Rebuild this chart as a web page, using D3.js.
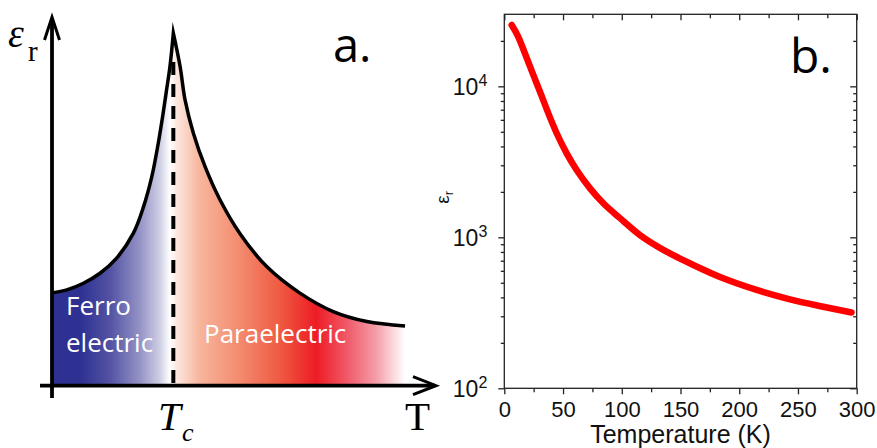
<!DOCTYPE html>
<html><head><meta charset="utf-8">
<script src="https://cdn.jsdelivr.net/npm/d3@7"></script>
<style>body{margin:0;background:#fff}svg{display:block}</style>
</head><body>
<svg id="c" width="877" height="448"></svg>
<script>
// ---------- Panel a: schematic (arbitrary units) ----------
const ferroT   = [0, 3.9, 8.3, 12.7, 17.1, 21.5, 24.2, 26.4, 28.1, 29.4, 30.3, 31.2, 32.1];
const ferroEps = [25.2, 26.0, 27.8, 30.5, 34.6, 41.3, 48.5, 56.7, 65.7, 73.9, 80.2, 86.5, 95.6];
const paraT    = [32.1, 33.9, 35.2, 37.4, 40.5, 44.4, 49.7, 56.8, 65.6, 74.4, 83.3, 93.4];
const paraEps  = [95.6, 86.5, 77.5, 68.5, 59.4, 50.5, 41.3, 32.3, 25.1, 20.1, 17.4, 16.2];
const curieT = 32.1;
const gradOffsets = [0, 0.08, 0.164, 0.25, 0.306, 0.334, 0.351, 0.419, 0.533, 0.646, 0.748, 0.83, 0.915, 1];
const gradColors  = ["#2e3192","#2e3192","#5352a3","#9594c6","#cfcfe5","#ffffff","#fde9e1","#f7b59c","#f38a6e","#ef5a42","#ed1c24","#f05564","#f59aa6","#ffffff"];

// ---------- Panel b: measured data ----------
const temperatureK = [6.3, 11.9, 17.6, 24.7, 30.4, 37.5, 44.6, 53.1, 61.6, 73, 84.3, 98.5, 115.5, 138.2, 160.9, 186.4, 214.8, 243.2, 271.5, 295.6];
const epsilonR     = [25500, 21300, 16500, 11900, 9200, 6620, 4890, 3600, 2790, 2110, 1680, 1340, 1035, 803, 656, 535, 448, 388, 347, 318];
const xMajorTicks = [0, 50, 100, 150, 200, 250, 300];
const xMinorTicks = [25, 75, 125, 175, 225, 275];
const yMajorTicks = [100, 1000, 10000];
const yMinorTicks = [200,300,400,500,600,700,800,900,2000,3000,4000,5000,6000,7000,8000,9000,20000];

const svg = d3.select("#c");

// ===== Panel a =====
const xA = d3.scaleLinear([0, 100], [52, 430]);
const yA = d3.scaleLinear([0, 100], [385.7, 17]);
const defs = svg.append("defs");
const grad = defs.append("linearGradient").attr("id","g1").attr("gradientUnits","userSpaceOnUse")
  .attr("x1", xA(ferroT[0])).attr("x2", xA(paraT[paraT.length-1])).attr("y1",0).attr("y2",0);
grad.selectAll("stop").data(gradOffsets).join("stop")
  .attr("offset", d=>d).attr("stop-color", (d,i)=>gradColors[i]);

const ferro = ferroT.map((t,i)=>[t, ferroEps[i]]);
const para = paraT.map((t,i)=>[t, paraEps[i]]);
const area = d3.area().x(d=>xA(d[0])).y0(yA(0)).y1(d=>yA(d[1])).curve(d3.curveCatmullRom);
const gA = svg.append("g");
gA.append("path").attr("d", area(ferro)).attr("fill","url(#g1)");
gA.append("path").attr("d", area(para)).attr("fill","url(#g1)");

const txtA = {fill:"#fff", "font-family":"'Open Sans', Lato, sans-serif", "font-size":"26px"};
function styled(sel, o){ for (const k in o) sel.attr(k, o[k]); return sel; }
styled(gA.append("text").attr("x",66).attr("y",315).text("Ferro"), txtA);
styled(gA.append("text").attr("x",66).attr("y",352).text("electric"), txtA);
styled(gA.append("text").attr("x",204).attr("y",343).text("Paraelectric"), txtA);

// dashed Tc line
gA.append("line").attr("x1", xA(curieT)).attr("x2", xA(curieT))
  .attr("y1", 62).attr("y2", yA(0))
  .attr("stroke","#000").attr("stroke-width",4).attr("stroke-dasharray","13,9");

const line = d3.line().x(d=>xA(d[0])).y(d=>yA(d[1])).curve(d3.curveCatmullRom);
const dCurve = line(ferro) + line(para).replace(/^M/, "L");
gA.append("path").attr("d", dCurve).attr("fill","none").attr("stroke","#000")
  .attr("stroke-width",3.5).attr("stroke-linejoin","miter").attr("stroke-miterlimit",30);

// axes with arrows
const ax0 = xA(0), ay0 = yA(0);
gA.append("line").attr("x1",ax0).attr("x2",ax0).attr("y1",398).attr("y2",18).attr("stroke","#000").attr("stroke-width",3.8);
gA.append("line").attr("x1",40).attr("x2",435).attr("y1",ay0).attr("y2",ay0).attr("stroke","#000").attr("stroke-width",3.8);
gA.append("path").attr("d",`M${ax0-7.5},40 L${ax0},17 L${ax0+7.5},40`).attr("fill","none").attr("stroke","#000").attr("stroke-width",3);
gA.append("path").attr("d",`M413,${ay0-9} L436,${ay0} L413,${ay0+9}`).attr("fill","none").attr("stroke","#000").attr("stroke-width",3);

const serif = "'Liberation Serif','DejaVu Serif',serif";
gA.append("text").attr("x",8).attr("y",47).attr("font-family",serif).attr("font-style","italic").attr("font-size","40px").text("ε");
gA.append("text").attr("x",28).attr("y",61).attr("font-family",serif).attr("font-size","29px").text("r");
gA.append("text").attr("x",158).attr("y",430).attr("font-family",serif).attr("font-style","italic").attr("font-size","41px").text("T");
gA.append("text").attr("x",182).attr("y",441).attr("font-family",serif).attr("font-style","italic").attr("font-size","26px").text("c");
gA.append("text").attr("x",405).attr("y",430).attr("font-family",serif).attr("font-size","41px").text("T");
gA.append("text").attr("x",333).attr("y",62).attr("font-family","'Open Sans',sans-serif").attr("font-size","47px").text("a.");

// ===== Panel b =====
const L = 504.3, R = 856.7, T = 14.3, B = 388.3;
const xB = d3.scaleLinear([0, 300], [L, R]);
const yB = d3.scaleLog([100, 30000], [B, T]);
const gB = svg.append("g").attr("font-family","'Liberation Sans',Arial,sans-serif");
const sans = "'Liberation Sans',Arial,sans-serif";

function styleAxis(g){ g.select(".domain").remove(); g.selectAll("line").attr("stroke","#222").attr("stroke-width",1.3); g.selectAll("text").attr("fill","#111").attr("font-family",sans); }

gB.append("g").attr("transform",`translate(0,${B})`)
  .call(d3.axisBottom(xB).tickValues(xMajorTicks).tickSize(6).tickPadding(7).tickFormat(d3.format("d")))
  .call(styleAxis).selectAll("text").attr("font-size","22px");
gB.append("g").attr("transform",`translate(0,${B})`)
  .call(d3.axisBottom(xB).tickValues(xMinorTicks).tickSize(4).tickFormat("")).call(styleAxis);
gB.append("g").attr("transform",`translate(0,${T})`)
  .call(d3.axisTop(xB).tickValues(xMajorTicks).tickSize(-6).tickFormat("")).call(styleAxis);
gB.append("g").attr("transform",`translate(0,${T})`)
  .call(d3.axisTop(xB).tickValues(xMinorTicks).tickSize(-4).tickFormat("")).call(styleAxis);

const yl = gB.append("g").attr("transform",`translate(${L},0)`)
  .call(d3.axisLeft(yB).tickValues(yMajorTicks).tickSize(6).tickPadding(11).tickFormat(()=>"")).call(styleAxis);
yl.selectAll(".tick text").attr("font-size","23px").attr("dy","0.36em").each(function(d){
  const t = d3.select(this);
  t.append("tspan").text("10");
  t.append("tspan").attr("font-size","16px").attr("dy","-0.55em").text(Math.round(Math.log10(d)));
});
gB.append("g").attr("transform",`translate(${L},0)`)
  .call(d3.axisLeft(yB).tickValues(yMinorTicks).tickSize(3.5).tickFormat("")).call(styleAxis);
gB.append("g").attr("transform",`translate(${R},0)`)
  .call(d3.axisRight(yB).tickValues(yMajorTicks).tickSize(-6.5).tickFormat("")).call(styleAxis);
gB.append("g").attr("transform",`translate(${R},0)`)
  .call(d3.axisRight(yB).tickValues(yMinorTicks).tickSize(-3.5).tickFormat("")).call(styleAxis);

gB.append("rect").attr("x",L).attr("y",T).attr("width",R-L).attr("height",B-T)
  .attr("fill","none").attr("stroke","#222").attr("stroke-width",1.3);

const dataB = temperatureK.map((t,i)=>[t, epsilonR[i]]);
gB.append("path").attr("d", d3.line().x(d=>xB(d[0])).y(d=>yB(d[1])).curve(d3.curveMonotoneX)(dataB))
  .attr("fill","none").attr("stroke","#ff0000").attr("stroke-width",6.5)
  .attr("stroke-linecap","round").attr("stroke-linejoin","round");

gB.append("text").attr("x",(L+R)/2).attr("y",443).attr("text-anchor","middle")
  .attr("font-family",sans).attr("font-size","25px").attr("fill","#111").text("Temperature (K)");
const yt = gB.append("text").attr("transform",`translate(449,${(T+B)/2 - 4}) rotate(-90)`).attr("text-anchor","middle")
  .attr("font-family",sans).attr("font-size","19px").attr("fill","#111");
yt.append("tspan").text("ε");
yt.append("tspan").attr("font-size","13px").attr("dy","0.3em").text("r");
gB.append("text").attr("x",790).attr("y",73).attr("font-family","'Open Sans',sans-serif").attr("font-size","48px").text("b.");
</script>
</body></html>
